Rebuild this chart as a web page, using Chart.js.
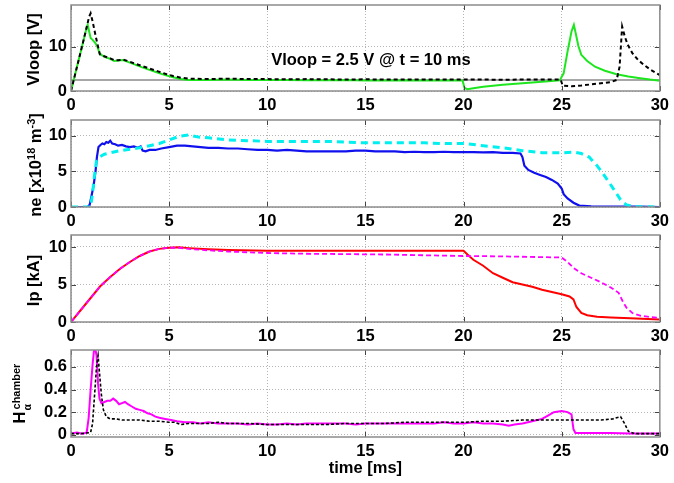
<!DOCTYPE html>
<html><head><meta charset="utf-8">
<script src="https://cdn.jsdelivr.net/npm/chart.js@4/dist/chart.umd.min.js"></script>
<style>
html,body{margin:0;padding:0;background:#fff;}
#wrap{position:relative;width:674px;height:483px;overflow:hidden;background:#fff;}
#wrap canvas{position:absolute;left:0;}
</style></head><body><div id="wrap"></div>
<script>
// ---------------- data ----------------
const xTicks = [0, 5, 10, 15, 20, 25, 30];
const vloopTicks = [0, 10];
const neTicks = [0, 5, 10];
const ipTicks = [0, 5, 10];
const haTicks = [0, 0.2, 0.4, 0.6];

const vloopRef = 2.5;
const vloopNote = 'Vloop = 2.5 V @ t = 10 ms';

const vloopGreen = [[0,0],[0.2,3.6],[0.4,7.2],[0.6,10.8],[0.8,14.4],[0.85,15.0],[0.92,13.6],[1.0,12.0],[1.1,11.6],[1.25,10.8],[1.35,10.0],[1.45,8.6],[1.6,8.0],[1.8,7.6],[2.0,7.3],[2.2,6.8],[2.4,6.9],[2.65,7.0],[2.9,6.6],[3.2,6.1],[3.6,5.4],[4.0,4.8],[4.4,4.2],[4.8,3.6],[5.2,3.1],[5.6,2.7],[6.0,2.5],[7,2.5],[8,2.6],[9,2.5],[10,2.5],[11,2.5],[12,2.45],[13,2.45],[14,2.5],[15,2.4],[16,2.4],[17,2.45],[18,2.4],[19,2.4],[19.95,2.4],[20.05,0.7],[20.2,0.4],[20.5,0.6],[21,0.95],[22,1.4],[23,1.75],[24,2.1],[24.9,2.4],[25.1,4.0],[25.3,9.0],[25.5,13.5],[25.62,15.0],[25.72,13.0],[25.85,10.2],[26.0,8.2],[26.3,6.8],[26.7,5.5],[27.2,4.6],[27.8,3.8],[28.4,3.3],[29.0,2.9],[29.5,2.6],[30,2.35]];
const vloopBlack = [[0,0],[0.2,3.6],[0.4,7.2],[0.6,10.8],[0.8,14.5],[0.92,16.8],[1.0,17.6],[1.1,15.8],[1.25,12.6],[1.35,10.6],[1.47,8.3],[1.6,8.0],[1.8,7.7],[2.0,7.4],[2.2,7.0],[2.4,7.0],[2.65,7.1],[2.9,6.8],[3.2,6.3],[3.6,5.7],[4.0,5.1],[4.4,4.5],[4.8,3.9],[5.2,3.4],[5.6,3.0],[6.0,2.8],[7,2.7],[8,2.8],[9,2.7],[10,2.7],[11,2.65],[12,2.7],[13,2.65],[14,2.6],[15,2.65],[16,2.6],[17,2.6],[18,2.6],[19,2.6],[20,2.6],[21,2.6],[22,2.55],[23,2.6],[24,2.6],[24.95,2.6],[25.05,1.2],[25.5,1.05],[26,1.25],[26.5,1.5],[27,1.75],[27.5,2.0],[27.8,2.5],[27.95,5.5],[28.08,14.6],[28.2,12.6],[28.35,10.6],[28.6,8.6],[28.9,7.0],[29.2,5.9],[29.5,4.9],[29.8,4.1],[30,3.6]];

const neBlue = [[0,0],[0.85,0],[0.95,0.3],[1.05,1.6],[1.15,3.0],[1.25,5.0],[1.32,7.0],[1.4,8.4],[1.5,8.7],[1.6,8.9],[1.7,8.8],[1.8,9.1],[1.9,9.0],[2.0,9.3],[2.1,8.9],[2.25,8.8],[2.4,8.6],[2.6,8.7],[2.8,8.5],[3.0,8.4],[3.2,8.5],[3.4,8.3],[3.55,8.5],[3.65,7.9],[3.8,7.8],[4.0,8.0],[4.3,8.0],[4.6,8.2],[5.0,8.4],[5.4,8.6],[5.8,8.6],[6.2,8.5],[6.6,8.4],[7,8.3],[7.5,8.3],[8,8.2],[8.5,8.2],[9,8.1],[9.5,8.0],[10,8.0],[10.5,7.9],[11,8.0],[11.5,7.9],[12,7.8],[12.5,7.8],[13,7.8],[13.5,7.8],[14,7.8],[14.5,7.9],[15,7.9],[15.5,7.8],[16,7.8],[16.5,7.8],[17,7.7],[17.5,7.75],[18,7.7],[18.5,7.7],[19,7.75],[19.5,7.7],[20,7.7],[20.5,7.7],[21,7.65],[21.5,7.7],[22,7.6],[22.5,7.6],[22.9,7.5],[23.0,7.0],[23.1,5.8],[23.3,5.2],[23.6,4.8],[23.9,4.5],[24.2,4.2],[24.5,3.8],[24.8,3.3],[25.0,2.6],[25.1,1.8],[25.3,1.2],[25.6,0.6],[25.9,0.2],[26.5,0.1],[27,0.05],[28,0.05],[29,0.05],[30,0]];
const neCyan = [[0,0],[1.0,0],[1.1,2.0],[1.2,4.5],[1.3,6.5],[1.45,7.0],[1.7,7.4],[2.0,7.6],[2.5,7.9],[3.0,8.1],[3.5,8.3],[4.0,8.6],[4.5,8.9],[5.0,9.4],[5.5,9.9],[6.0,10.1],[6.5,9.8],[7,9.7],[8,9.4],[9,9.3],[10,9.2],[11,9.2],[12,9.2],[13,9.2],[14,9.1],[15,9.0],[16,9.0],[17,9.0],[18,9.0],[19,8.9],[20,8.9],[21,8.6],[22,8.3],[22.5,8.1],[23,7.9],[24,7.6],[25,7.6],[25.6,7.7],[26.0,7.5],[26.4,7.0],[26.8,5.8],[27.1,4.7],[27.4,3.5],[27.7,2.3],[28.0,1.0],[28.3,0.3],[28.7,0.05],[30,0]];

const ipRed = [[0,0],[0.5,1.6],[1.0,3.2],[1.5,4.8],[2.0,6.0],[2.5,7.1],[3.0,8.0],[3.5,8.8],[4.0,9.4],[4.5,9.75],[5.0,9.9],[5.5,9.95],[6,9.85],[7,9.7],[8,9.6],[10,9.5],[12,9.5],[14,9.5],[16,9.5],[18,9.5],[20,9.5],[20.2,9.0],[20.5,8.3],[21,7.5],[21.5,6.5],[22,5.9],[22.5,5.3],[23,5.0],[23.5,4.7],[24,4.3],[24.5,4.0],[25,3.7],[25.4,3.4],[25.6,3.0],[25.75,2.0],[26,1.2],[26.3,0.9],[26.8,0.7],[27.5,0.6],[28.5,0.5],[30,0.33]];
const ipMagenta = [[0,0],[0.5,1.6],[1.0,3.2],[1.5,4.8],[2.0,6.0],[2.5,7.1],[3.0,8.0],[3.5,8.8],[4.0,9.4],[4.5,9.75],[5.0,9.9],[5.5,9.9],[6,9.75],[7,9.55],[8,9.4],[10,9.2],[12,9.1],[14,9.05],[16,9.0],[18,8.9],[20,8.8],[22,8.75],[24,8.65],[25,8.6],[25.3,8.0],[25.6,7.2],[26,6.5],[26.5,5.9],[27,5.3],[27.5,4.6],[27.9,3.9],[28.1,2.8],[28.3,1.9],[28.6,1.2],[29,0.85],[29.5,0.65],[30,0.55]];

const haMagenta = [[0,0.01],[0.3,0.02],[0.6,0.01],[0.8,0.02],[0.9,0.15],[1.0,0.4],[1.1,0.62],[1.2,0.8],[1.3,0.7],[1.38,0.45],[1.45,0.32],[1.55,0.28],[1.7,0.29],[1.85,0.3],[2.0,0.3],[2.15,0.32],[2.3,0.3],[2.45,0.27],[2.6,0.28],[2.75,0.29],[2.9,0.27],[3.1,0.25],[3.3,0.23],[3.5,0.22],[3.7,0.21],[3.9,0.19],[4.1,0.18],[4.3,0.16],[4.5,0.15],[4.8,0.14],[5.1,0.13],[5.4,0.12],[5.8,0.11],[6.2,0.11],[6.6,0.1],[7,0.11],[7.5,0.1],[8,0.1],[8.5,0.1],[9,0.09],[9.5,0.1],[10,0.09],[10.5,0.09],[11,0.1],[11.5,0.09],[12,0.1],[12.5,0.1],[13,0.1],[13.5,0.1],[14,0.1],[14.5,0.09],[15,0.1],[15.5,0.1],[16,0.1],[16.5,0.1],[17,0.1],[17.5,0.1],[18,0.1],[18.5,0.1],[19,0.11],[19.5,0.1],[20,0.1],[20.5,0.11],[21,0.1],[21.5,0.1],[22,0.09],[22.3,0.08],[22.6,0.09],[23,0.1],[23.5,0.12],[24,0.14],[24.3,0.17],[24.6,0.2],[25,0.21],[25.3,0.2],[25.5,0.18],[25.6,0.05],[25.7,0.015],[26.5,0.015],[27.5,0.015],[28.5,0.01],[30,0.01]];
const haBlack = [[0,0.01],[0.5,0.01],[1.0,0.02],[1.1,0.1],[1.2,0.35],[1.3,0.6],[1.38,0.7],[1.45,0.55],[1.55,0.35],[1.65,0.22],[1.8,0.16],[2.0,0.14],[2.3,0.14],[2.6,0.13],[3.0,0.13],[3.5,0.13],[4.0,0.12],[4.5,0.12],[5.0,0.11],[5.3,0.11],[5.6,0.09],[6,0.1],[6.5,0.1],[7,0.1],[7.5,0.11],[8,0.1],[9,0.1],[10,0.09],[11,0.09],[12,0.09],[13,0.09],[14,0.1],[15,0.1],[16,0.1],[17,0.11],[18,0.11],[19,0.11],[20,0.11],[21,0.12],[22,0.12],[23,0.13],[24,0.13],[25,0.13],[26,0.13],[27,0.13],[27.6,0.14],[28.0,0.16],[28.2,0.1],[28.4,0.03],[28.7,0.01],[30,0.01]];

// ---------------- drawing ----------------
const FONT = '"Liberation Sans", Arial, Helvetica, sans-serif';
const FS = 16.5;
const W = 674;
const PAD_TOP = 20;

function pts(a){ return a.map(p => ({x:p[0], y:p[1]})); }

const panels = [
  {plotTop:5, plotBottom:91, xh:24, ymin:0, ymax:19.5, yticks:vloopTicks,
   sets:[{d:vloopBlack,c:'#000000',w:2,dash:[4,3]},{d:vloopGreen,c:'#1ee61e',w:2,dash:[]}],
   title:[{t:'Vloop [V]'}], tx:38.5, ty:49.5, hline:vloopRef, note:{x:15.28,y:7.0,t:vloopNote}},
  {plotTop:120, plotBottom:207, xh:24, ymin:0, ymax:12.2, yticks:neTicks,
   sets:[{d:neCyan,c:'#00f0f0',w:3,dash:[7,5]},{d:neBlue,c:'#1010ee',w:2.2,dash:[]}],
   title:[{t:'ne [x10'},{t:'18',s:11,dy:-6.5},{t:' m'},{t:'-3',s:11,dy:-6.5},{t:']'}], tx:41, ty:165},
  {plotTop:235, plotBottom:322, xh:24, ymin:0, ymax:11.6, yticks:ipTicks,
   sets:[{d:ipMagenta,c:'#ff00ff',w:1.8,dash:[5,3]},{d:ipRed,c:'#ff0000',w:2,dash:[]}],
   title:[{t:'Ip [kA]'}], tx:38.5, ty:280.5},
  {plotTop:350, plotBottom:437, xh:46, ymin:-0.02, ymax:0.75, yticks:haTicks,
   sets:[{d:haBlack,c:'#000000',w:1.6,dash:[3,2]},{d:haMagenta,c:'#ff00ff',w:2,dash:[]}],
   ha:true, tx:24.5, ty:393.5, xtitle:'time [ms]'}
];

function rotText(ctx, x, yc, segs){
  ctx.save();
  ctx.translate(x, yc);
  ctx.rotate(-Math.PI/2);
  ctx.fillStyle = '#000'; ctx.textBaseline = 'alphabetic'; ctx.textAlign = 'left';
  let total = 0;
  segs.forEach(s => { ctx.font = `bold ${s.s||FS}px ${FONT}`; s.w = ctx.measureText(s.t).width; total += s.w; });
  let u = -total/2;
  segs.forEach(s => { ctx.font = `bold ${s.s||FS}px ${FONT}`; ctx.fillText(s.t, u, s.dy||0); u += s.w; });
  ctx.restore();
}

function haTitle(ctx, x, yc){
  ctx.save();
  ctx.translate(x, yc);
  ctx.rotate(-Math.PI/2);
  ctx.fillStyle = '#000'; ctx.textBaseline = 'alphabetic'; ctx.textAlign = 'left';
  ctx.font = `bold ${FS}px ${FONT}`;
  const wH = ctx.measureText('H').width;
  ctx.font = `bold 11px ${FONT}`;
  const wC = ctx.measureText('chamber').width;
  const total = wH + 2 + wC;
  let u = -total/2;
  ctx.font = `bold ${FS}px ${FONT}`;
  ctx.fillText('H', u, 0);
  ctx.font = `bold 10.5px ${FONT}`;
  ctx.fillText('\u03B1', u + wH + 1, 6.5);
  ctx.font = `bold 11px ${FONT}`;
  ctx.fillText('chamber', u + wH + 2, -4.5);
  ctx.restore();
}

const wrap = document.getElementById('wrap');

panels.forEach((p, i) => {
  const top = p.plotTop - PAD_TOP;
  const h = (p.plotBottom - p.plotTop) + PAD_TOP + p.xh;
  const cv = document.createElement('canvas');
  cv.width = W; cv.height = h;
  cv.style.top = top + 'px';
  cv.style.width = W + 'px'; cv.style.height = h + 'px';
  wrap.appendChild(cv);

  const deco = {
    id: 'deco' + i,
    beforeDatasetsDraw(chart){
      if (p.hline === undefined) return;
      const {ctx, chartArea:a} = chart;
      const y = chart.scales.y.getPixelForValue(p.hline);
      ctx.save();
      ctx.strokeStyle = '#8a8a8a'; ctx.lineWidth = 1.5;
      ctx.beginPath(); ctx.moveTo(a.left, y); ctx.lineTo(a.right, y); ctx.stroke();
      ctx.restore();
    },
    afterDatasetsDraw(chart){
      const {ctx, chartArea:a} = chart;
      ctx.save();
      // inside tick marks
      ctx.strokeStyle = '#444'; ctx.lineWidth = 1;
      ctx.beginPath();
      xTicks.forEach(v => {
        const x = Math.round(chart.scales.x.getPixelForValue(v)) + 0.5;
        ctx.moveTo(x, a.bottom); ctx.lineTo(x, a.bottom - 5);
        ctx.moveTo(x, a.top); ctx.lineTo(x, a.top + 5);
      });
      p.yticks.forEach(v => {
        const y = Math.round(chart.scales.y.getPixelForValue(v)) + 0.5;
        ctx.moveTo(a.left, y); ctx.lineTo(a.left + 5, y);
        ctx.moveTo(a.right, y); ctx.lineTo(a.right - 5, y);
      });
      ctx.stroke();
      // box
      ctx.strokeStyle = '#8c8c8c'; ctx.lineWidth = 1.5;
      ctx.strokeRect(a.left, a.top, a.right - a.left, a.bottom - a.top);
      // note
      if (p.note){
        ctx.fillStyle = '#000'; ctx.font = `bold ${FS}px ${FONT}`;
        ctx.textAlign = 'center'; ctx.textBaseline = 'middle';
        ctx.fillText(p.note.t, chart.scales.x.getPixelForValue(p.note.x), chart.scales.y.getPixelForValue(p.note.y));
      }
      // y title
      if (p.ha) haTitle(ctx, p.tx, p.ty - top);
      else rotText(ctx, p.tx, p.ty - top, p.title.map(s => Object.assign({}, s)));
      // x title
      if (p.xtitle){
        ctx.fillStyle = '#000'; ctx.font = `bold ${FS}px ${FONT}`;
        ctx.textAlign = 'center'; ctx.textBaseline = 'middle';
        ctx.fillText(p.xtitle, (a.left + a.right)/2, 468 - top);
      }
      ctx.restore();
    }
  };

  new Chart(cv, {
    type: 'line',
    data: {
      datasets: p.sets.map(s => ({
        data: pts(s.d), borderColor: s.c, borderWidth: s.w, borderDash: s.dash,
        pointRadius: 0, tension: 0, fill: false
      }))
    },
    options: {
      responsive: false, animation: false, devicePixelRatio: 1,
      layout: {padding: {left: 0, right: 11, top: PAD_TOP, bottom: 0}},
      plugins: {legend: {display: false}, tooltip: {enabled: false}},
      scales: {
        x: {
          type: 'linear', min: 0, max: 30,
          afterBuildTicks: s => { s.ticks = xTicks.map(v => ({value: v})); },
          afterFit: s => { s.height = p.xh; },
          ticks: {color: '#000', font: {family: FONT, size: FS, weight: 'bold'}, padding: 5, maxRotation: 0,
                  callback: v => String(v)},
          grid: {color: '#b4b4b4', lineWidth: 1, drawTicks: false},
          border: {display: false, dash: [1, 2]}
        },
        y: {
          type: 'linear', min: p.ymin, max: p.ymax,
          afterBuildTicks: s => { s.ticks = p.yticks.map(v => ({value: v})); },
          afterFit: s => { s.width = 71; },
          ticks: {color: '#000', font: {family: FONT, size: FS, weight: 'bold'}, padding: 4,
                  callback: v => (v === 0 ? '0' : (Number.isInteger(v) ? String(v) : v.toFixed(1)))},
          grid: {color: '#b4b4b4', lineWidth: 1, drawTicks: false},
          border: {display: false, dash: [1, 2]}
        }
      }
    },
    plugins: [deco]
  });
});
</script></body></html>
